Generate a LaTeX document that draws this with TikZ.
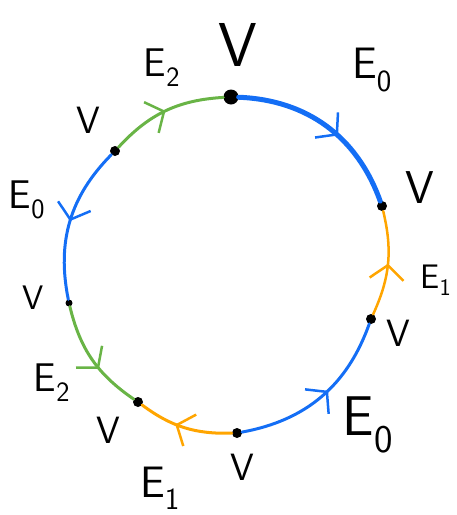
\documentclass[tikz,border=0pt]{standalone}
\usetikzlibrary{arrows.meta,decorations.markings}
\definecolor{eblue}{RGB}{20,110,245}
\definecolor{egreen}{RGB}{105,180,70}
\definecolor{eorange}{RGB}{255,165,0}
\tikzset{
  vtx/.style={circle, fill=black, inner sep=0pt, minimum size=10pt},
  lbl/.style={font=\sffamily\fontsize{#1}{#1}\selectfont, inner sep=0pt},
  lbl/.default=34,
  link/.style={line width=3pt, line cap=round, postaction={decorate},
               decoration={markings, mark=at position #1 with
                 {\arrow{Straight Barb[length=14pt,width=34pt,line width=2.5pt]}}}},
  link/.default=0.55,
}
\begin{document}
\begin{tikzpicture}[x=1pt,y=-1pt]
  \useasboundingbox (0,0) rectangle (456,515);
  % vertices
  \node[vtx, minimum size=15pt] (vT) at (231,97) {};
  \node[vtx] (vR)  at (382,206) {};
  \node[vtx] (vLR) at (371,319) {};
  \node[vtx] (vB)  at (237,433) {};
  \node[vtx] (vLL) at (138,402) {};
  \node[vtx, minimum size=7pt] (vL) at (69,303) {};
  \node[vtx] (vUL) at (115,151) {};
  % edges
  \draw[link=0.58, eblue, line width=5pt] (vT) to[bend left=34] (vR);
  \draw[link=0.5, egreen] (vUL) to[bend left=22] (vT);
  \draw[link=0.5, eblue] (vUL) to[bend right=28] (vL);
  \draw[link=0.6, egreen] (vL) to[bend right=21] (vLL);
  \draw[link=0.6, eorange] (vB) to[bend left=19] (vLL);
  \draw[link=0.55, eblue] (vB) to[bend right=30] (vLR);
  \draw[link=0.5, eorange, line width=2.5pt] (vLR) to[bend right=19] (vR);
  % labels
  \node[lbl=62] (tT)  at (238,45) {V};
  \node[lbl=46] (tR)  at (420,188) {V};
  \node[lbl=38] (tLR) at (398,333) {V};
  \node[lbl=38] (tB)  at (242,467) {V};
  \node[lbl=38] (tLL) at (108,430) {V};
  \node[lbl=34] (tL)  at (33,298) {V};
  \node[lbl=38] (tUL) at (88,120) {V};
  \node[lbl=44] (e1)  at (372,70) {E\textsubscript{0}};
  \node[lbl=34] (e2)  at (436,280) {E\textsubscript{1}};
  \node[lbl=56] (e3)  at (368,425) {E\textsubscript{0}};
  \node[lbl=44] (e4)  at (160,488) {E\textsubscript{1}};
  \node[lbl=40] (e5)  at (52,383) {E\textsubscript{2}};
  \node[lbl=40] (e6)  at (27,200) {E\textsubscript{0}};
  \node[lbl=40] (e7)  at (162,68) {E\textsubscript{2}};
\end{tikzpicture}
\end{document}
